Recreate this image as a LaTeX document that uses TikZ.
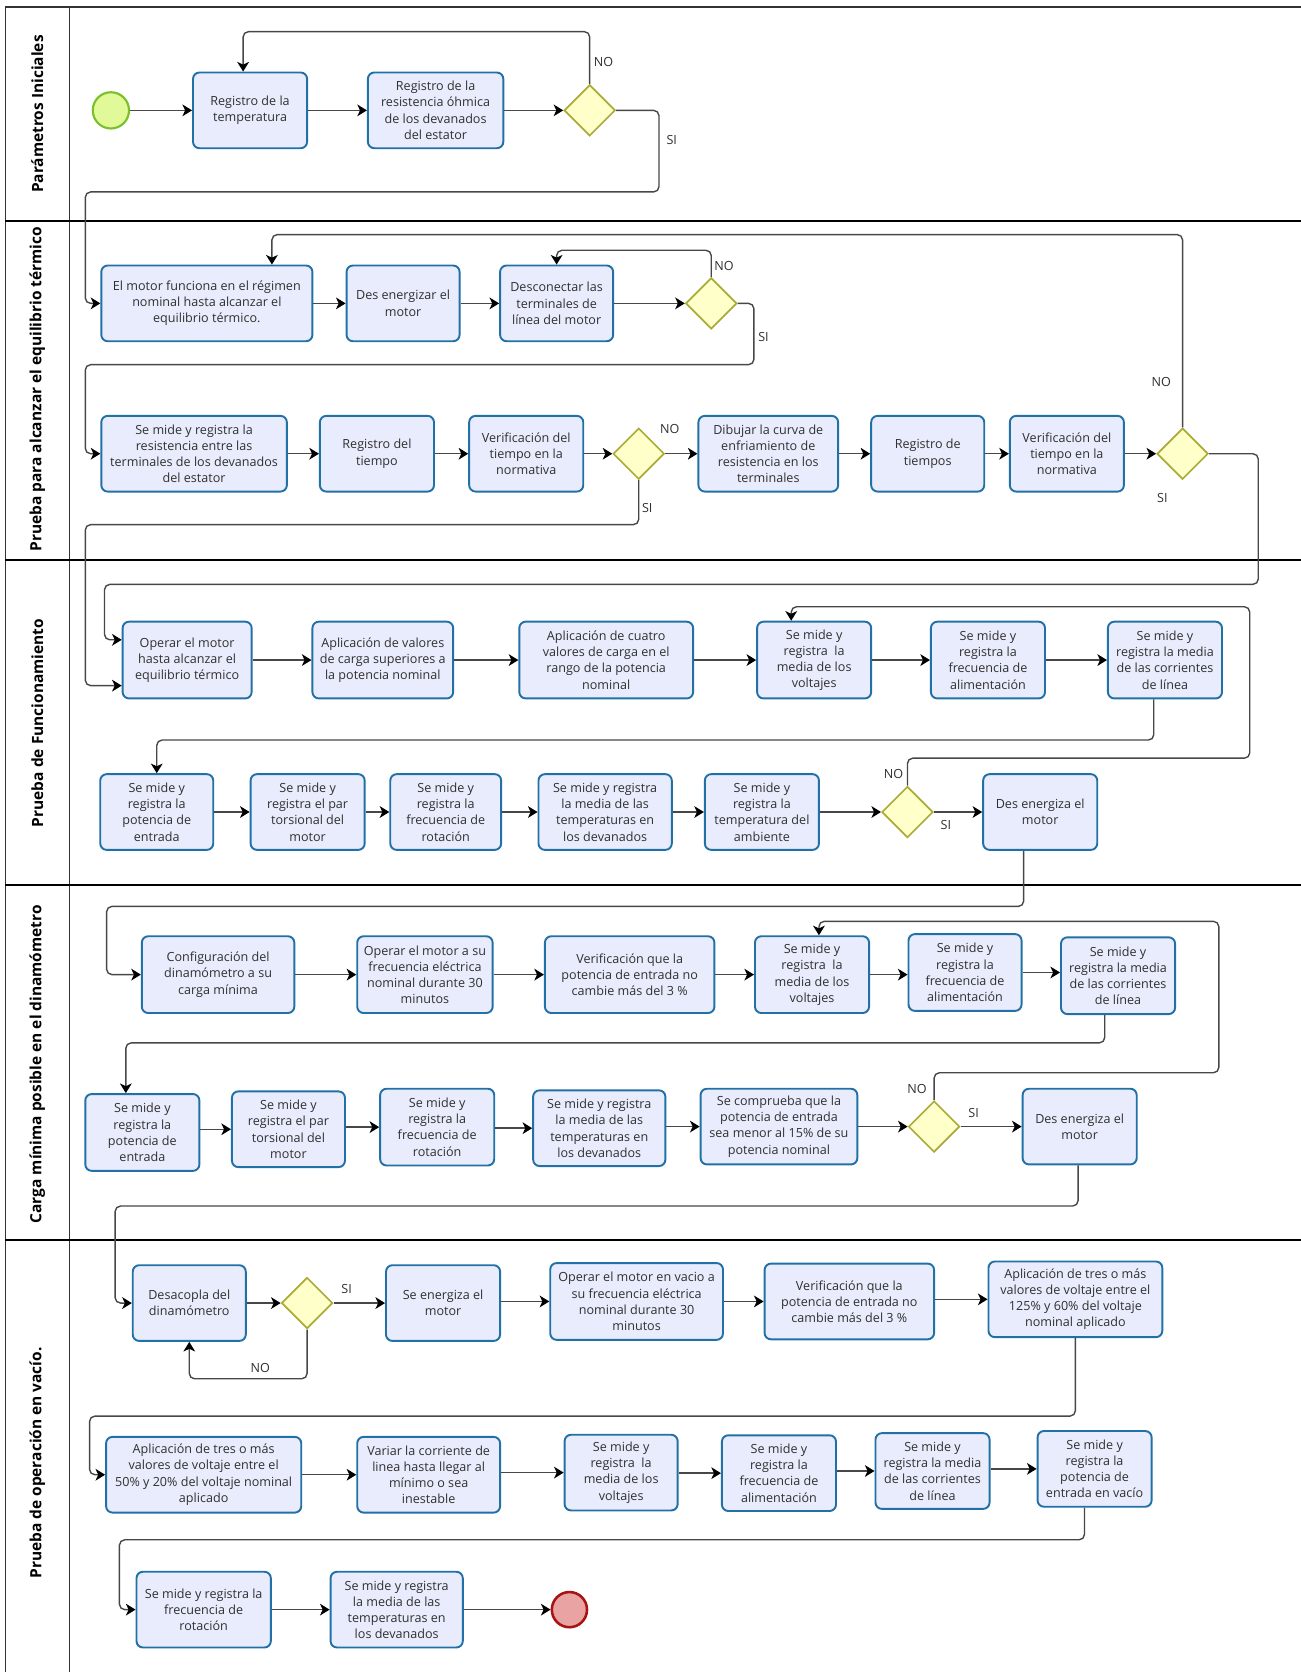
\documentclass[tikz,border=0pt]{standalone}
\usepackage{fontspec}
\setmainfont{Open Sans}
\usetikzlibrary{shapes.geometric,arrows.meta}
\definecolor{boxfill}{HTML}{E9ECFC}
\definecolor{boxline}{HTML}{2170A6}
\definecolor{gatefill}{HTML}{FFFFCA}
\definecolor{gateline}{HTML}{ABAB38}
\definecolor{startfill}{HTML}{E2F99A}
\definecolor{startline}{HTML}{7BBF2B}
\definecolor{endfill}{HTML}{E9A3A3}
\definecolor{endline}{HTML}{A81414}
\definecolor{flowgray}{HTML}{474747}
\definecolor{txt}{HTML}{303030}
\newcommand\tskfont{\fontsize{11.8}{15.2}\selectfont}
\newcommand\lanettl{\fontsize{14.5}{17}\selectfont\bfseries}
\tikzset{
  task/.style={rectangle, rounded corners=6pt, draw=boxline, line width=1.8pt,
    fill=boxfill, align=center, text=txt, font=\tskfont, inner sep=2pt},
  wh/.style 2 args={minimum width=#1pt, minimum height=#2pt},
  gate/.style={diamond, aspect=1, minimum width=48pt, minimum height=48pt,
    inner sep=0pt, draw=gateline, line width=1.6pt, fill=gatefill},
  flow/.style={draw=flowgray, line width=1.3pt, rounded corners=5pt,
    -{Stealth[length=9pt,width=11pt,inset=2.5pt,color=black]}},
  lbl/.style={font=\tskfont, text=txt, inner sep=0pt},
  lanetitle/.style={rotate=90, font=\lanettl, text=black, inner sep=0pt},
  frame/.style={draw=black!80, line width=1.3pt},
  lanesep/.style={draw=black, line width=2.2pt},
}
\begin{document}
\begin{tikzpicture}[x=1pt, y=-1pt]
\useasboundingbox (0,0) rectangle (1220,1568);

% swimlane frame
\draw[frame] (5,6.6) -- (1220,6.6);
\draw[frame] (5,6.6) -- (5,1568);
\draw[frame] (65,6.6) -- (65,1568);
\draw[lanesep] (5,207) -- (1220,207);
\draw[lanesep] (5,525) -- (1220,525);
\draw[lanesep] (5,830) -- (1220,830);
\draw[lanesep] (5,1163) -- (1220,1163);

% lane titles
\node[lanetitle] (lane1) at (35,107) {Parámetros Iniciales};
\node[lanetitle] (lane2) at (35,365) {Prueba para alcanzar el equilibrio térmico};
\node[lanetitle] (lane3) at (35,678) {Prueba de Funcionamiento};
\node[lanetitle] (lane4) at (35,998) {Carga mínima posible en el dinamómetro};
\node[lanetitle] (lane5) at (35,1372) {Prueba de operación en vacío.};

% ---- Parámetros iniciales
\node[circle, minimum size=34pt, inner sep=0pt, draw=startline, line width=2pt, fill=startfill] (S) at (104,103.5) {};
\node[task, wh={107}{71}] (T1) at (234.5,103.5) {Registro de la\\temperatura};
\node[task, wh={127}{71}] (T2) at (408.5,103.5) {Registro de la\\resistencia óhmica\\de los devanados\\del estator};
\node[gate] (G1) at (553,103.5) {};

\draw[flow] (S) -- (T1);
\draw[flow] (T1) -- (T2);
\draw[flow] (T2) -- (G1);
\draw[flow] (G1.north) -- ++(0,-49) -| ([xshift=-6.5pt]T1.north);
\node[lbl] (n1) at (566,58) {NO};
\node[lbl] (s1) at (630,131) {SI};

% ---- Equilibrio térmico, fila 1
\node[task, wh={198}{71}] (A1) at (194,284.5) {El motor funciona en el régimen\\nominal hasta alcanzar el\\equilibrio térmico.};
\node[task, wh={106}{71}] (A2) at (378,284.5) {Des energizar el\\motor};
\node[task, wh={106}{71}] (A3) at (522,284.5) {Desconectar las\\terminales de\\línea del motor};
\node[gate] (G2) at (667,284.5) {};

\draw[flow] (G1.east) -- (618,103.5) -- (618,180) -- (80,180) |- (A1.west);
\draw[flow] (A1) -- (A2);
\draw[flow] (A2) -- (A3);
\draw[flow] (A3) -- (G2);
\draw[flow] (G2.north) -- ++(0,-25) -| (A3.north);
\node[lbl] (n2) at (679,249) {NO};
\node[lbl] (s2) at (716,316) {SI};

% ---- Equilibrio térmico, fila 2
\node[task, wh={174}{71}] (B1) at (182,425.5) {Se mide y registra la\\resistencia entre las\\terminales de los devanados\\del estator};
\node[task, wh={107}{71}] (B2) at (353.5,425.5) {Registro del\\tiempo};
\node[task, wh={107}{71}] (B3) at (493.5,425.5) {Verificación del\\tiempo en la\\normativa};
\node[gate] (G3) at (599,425.5) {};
\node[task, wh={131}{71}] (B4) at (720.5,425.5) {Dibujar la curva de\\enfriamiento de\\resistencia en los\\terminales};
\node[task, wh={106}{71}] (B5) at (870,425.5) {Registro de\\tiempos};
\node[task, wh={107}{71}] (B6) at (1000.5,425.5) {Verificación del\\tiempo en la\\normativa};
\node[gate] (G4) at (1109,425.5) {};

\draw[flow] (G2.east) -- (707,284.5) -- (707,342) -- (80,342) |- (B1.west);
\draw[flow] (B1) -- (B2);
\draw[flow] (B2) -- (B3);
\draw[flow] (B3) -- (G3);
\draw[flow] (G3) -- (B4);
\draw[flow] (B4) -- (B5);
\draw[flow] (B5) -- (B6);
\draw[flow] (B6) -- (G4);
\draw[flow] (G4.north) -- (1109,220) -| ([xshift=61pt]A1.north);
\node[lbl] (n3) at (628,402) {NO};
\node[lbl] (s3) at (607,476) {SI};
\node[lbl] (n4) at (1089,358) {NO};
\node[lbl] (s4) at (1090,467) {SI};

% ---- Prueba de funcionamiento, fila 1
\node[task, wh={121}{72}] (C1) at (175.5,619) {Operar el motor\\hasta alcanzar el\\equilibrio térmico};
\node[task, wh={132}{72}] (C2) at (359,619) {Aplicación de valores\\de carga superiores a\\la potencia nominal};
\node[task, wh={163}{72}] (C3) at (568.5,619) {Aplicación de cuatro\\valores de carga en el\\rango de la potencia\\nominal};
\node[task, wh={107}{72}] (C4) at (763.5,619) {Se mide y\\registra\ \ la\\media de los\\voltajes};
\node[task, wh={107}{72}] (C5) at (926.5,619) {Se mide y\\registra la\\frecuencia de\\alimentación};
\node[task, wh={107}{72}] (C6) at (1092.5,619) {Se mide y\\registra la media\\de las corrientes\\de línea};

\draw[flow] (G3.south) -- (599,492) -- (80,492) |- ([yshift=-24pt]C1.west);
\draw[flow] (G4.east) -- (1180,425.5) -- (1180,548) -- (98,548) |- ([yshift=19pt]C1.west);
\draw[flow] (C1) -- (C2);
\draw[flow] (C2) -- (C3);
\draw[flow] (C3) -- (C4);
\draw[flow] (C4) -- (C5);
\draw[flow] (C5) -- (C6);

% ---- Prueba de funcionamiento, fila 2
\node[task, wh={106}{71}] (D1) at (147,761.5) {Se mide y\\registra la\\potencia de\\entrada};
\node[task, wh={107}{71}] (D2) at (288.5,761.5) {Se mide y\\registra el par\\torsional del\\motor};
\node[task, wh={104}{71}] (D3) at (418,761.5) {Se mide y\\registra la\\frecuencia de\\rotación};
\node[task, wh={125}{71}] (D4) at (567.5,761.5) {Se mide y registra\\la media de las\\temperaturas en\\los devanados};
\node[task, wh={107}{71}] (D5) at (714.5,761.5) {Se mide y\\registra la\\temperatura del\\ambiente};
\node[gate] (G5) at (851,761.5) {};
\node[task, wh={107}{71}] (D6) at (975.5,761.5) {Des energiza el\\motor};

\draw[flow] ([xshift=-10.5pt]C6.south) -- (1082,694) -| (D1.north);
\draw[flow] (D1) -- (D2);
\draw[flow] (D2) -- (D3);
\draw[flow] (D3) -- (D4);
\draw[flow] (D4) -- (D5);
\draw[flow] (D5) -- (G5);
\draw[flow] (G5) -- (D6);
\draw[flow] (G5.north) -- (851,711) -- (1172,711) -- (1172,569) -| ([xshift=-21.5pt]C4.north);
\node[lbl] (n5) at (838,726) {NO};
\node[lbl] (s5) at (887,774) {SI};

% ---- Carga mínima, fila 1
\node[task, wh={143}{72}] (E1) at (204.5,914) {Configuración del\\dinamómetro a su\\carga mínima};
\node[task, wh={127}{72}] (E2) at (398.5,914) {Operar el motor a su\\frecuencia eléctrica\\nominal durante 30\\minutos};
\node[task, wh={159}{72}] (E3) at (590.5,914) {Verificación que la\\potencia de entrada no\\cambie más del 3 \%};
\node[task, wh={107}{72}] (E4) at (761.5,914) {Se mide y\\registra\ \ la\\media de los\\voltajes};
\node[task, wh={106}{72}] (E5) at (905,912) {Se mide y\\registra la\\frecuencia de\\alimentación};
\node[task, wh={107}{72}] (E6) at (1048.5,915) {Se mide y\\registra la media\\de las corrientes\\de línea};

\draw[flow] ([xshift=-15.5pt]D6.south) -- (960,850) -- (100,850) |- (E1.west);
\draw[flow] (E1) -- (E2);
\draw[flow] (E2) -- (E3);
\draw[flow] (E3) -- (E4);
\draw[flow] (E4.east) -- (E5.west |- E4.east);
\draw[flow] (E5.east) -- (E6.west |- E5.east);

% ---- Carga mínima, fila 2
\node[task, wh={107}{72}] (F1) at (133.5,1062) {Se mide y\\registra la\\potencia de\\entrada};
\node[task, wh={106}{71}] (F2) at (270.5,1059) {Se mide y\\registra el par\\torsional del\\motor};
\node[task, wh={107}{72}] (F3) at (410,1057) {Se mide y\\registra la\\frecuencia de\\rotación};
\node[task, wh={124}{71}] (F4) at (562,1058) {Se mide y registra\\la media de las\\temperaturas en\\los devanados};
\node[task, wh={147}{71}] (F5) at (730.5,1056.5) {Se comprueba que la\\potencia de entrada\\sea menor al 15\% de su\\potencia nominal};
\node[gate] (G6) at (876,1056.5) {};
\node[task, wh={107}{71}] (F6) at (1012.5,1056.5) {Des energiza el\\motor};

\draw[flow] ([xshift=-12.5pt]E6.south) -- (1036,978) -| ([xshift=-15.5pt]F1.north);
\draw[flow] (F1.east |- F2.west) -- (F2.west);
\draw[flow] (F2.east |- F3.west) -- (F3.west);
\draw[flow] (F3.east |- F4.west) -- (F4.west);
\draw[flow] (F4.east |- F5.west) -- (F5.west);
\draw[flow] (F5) -- (G6);
\draw[flow] (G6) -- (F6);
\draw[flow] (G6.north) -- (876,1006) -- (1143,1006) -- (1143,864) -| ([xshift=6.5pt]E4.north);
\node[lbl] (n6) at (860,1021) {NO};
\node[lbl] (s6) at (913,1044) {SI};

% ---- Operación en vacío, fila 1
\node[task, wh={106}{71}] (H1) at (177.5,1222) {Desacopla del\\dinamómetro};
\node[gate] (G7) at (288,1222) {};
\node[task, wh={107}{71}] (H2) at (415.5,1222) {Se energiza el\\motor};
\node[task, wh={162}{72}] (H3) at (597,1220.5) {Operar el motor en vacio a\\su frecuencia eléctrica\\nominal durante 30\\minutos};
\node[task, wh={159}{71}] (H4) at (796.5,1220.5) {Verificación que la\\potencia de entrada no\\cambie más del 3 \%};
\node[task, wh={163}{71}] (H5) at (1008.5,1218.5) {Aplicación de tres o más\\valores de voltaje entre el\\125\% y 60\% del voltaje\\nominal aplicado};

\draw[flow] ([xshift=-1.5pt]F6.south) -- (1011,1131) -- (108,1131) |- (H1.west);
\draw[flow] (H1) -- (G7);
\draw[flow] (G7) -- (H2);
\draw[flow] (H2.east |- H3.west) -- (H3.west);
\draw[flow] (H3) -- (H4);
\draw[flow] (H4.east |- H5.west) -- (H5.west);
\draw[flow] (G7.south) -- (288,1293) -| (H1.south);
\node[lbl] (s7) at (325,1209) {SI};
\node[lbl] (n7) at (244,1283) {NO};

% ---- Operación en vacío, fila 2
\node[task, wh={183}{71}] (J1) at (191,1383) {Aplicación de tres o más\\valores de voltaje entre el\\50\% y 20\% del voltaje nominal\\aplicado};
\node[task, wh={134}{71}] (J2) at (402,1383) {Variar la corriente de\\linea hasta llegar al\\mínimo o sea\\inestable};
\node[task, wh={106}{71}] (J3) at (582.5,1381) {Se mide y\\registra\ \ la\\media de los\\voltajes};
\node[task, wh={107}{71}] (J4) at (730.5,1381.5) {Se mide y\\registra la\\frecuencia de\\alimentación};
\node[task, wh={107}{71}] (J5) at (874.5,1379.5) {Se mide y\\registra la media\\de las corrientes\\de línea};
\node[task, wh={107}{71}] (J6) at (1026.5,1377.5) {Se mide y\\registra la\\potencia de\\entrada en vacío};

\draw[flow] (H5.south) -- (1008.5,1328) -- (84,1328) |- (J1.west);
\draw[flow] (J1) -- (J2);
\draw[flow] (J2.east |- J3.west) -- (J3.west);
\draw[flow] (J3.east |- J4.west) -- (J4.west);
\draw[flow] (J4.east |- J5.west) -- (J5.west);
\draw[flow] (J5.east |- J6.west) -- (J6.west);

% ---- Operación en vacío, fila 3
\node[task, wh={126}{71}] (K1) at (191,1509.5) {Se mide y registra la\\frecuencia de\\rotación};
\node[task, wh={124}{71}] (K2) at (372,1509.5) {Se mide y registra\\la media de las\\temperaturas en\\los devanados};
\node[circle, minimum size=33pt, inner sep=0pt, draw=endline, line width=2.4pt, fill=endfill] (E) at (534,1509.5) {};

\draw[flow] ([xshift=-9.5pt]J6.south) -- (1017,1444) -- (112,1444) |- (K1.west);
\draw[flow] (K1) -- (K2);
\draw[flow] (K2) -- (E);
\end{tikzpicture}
\end{document}
